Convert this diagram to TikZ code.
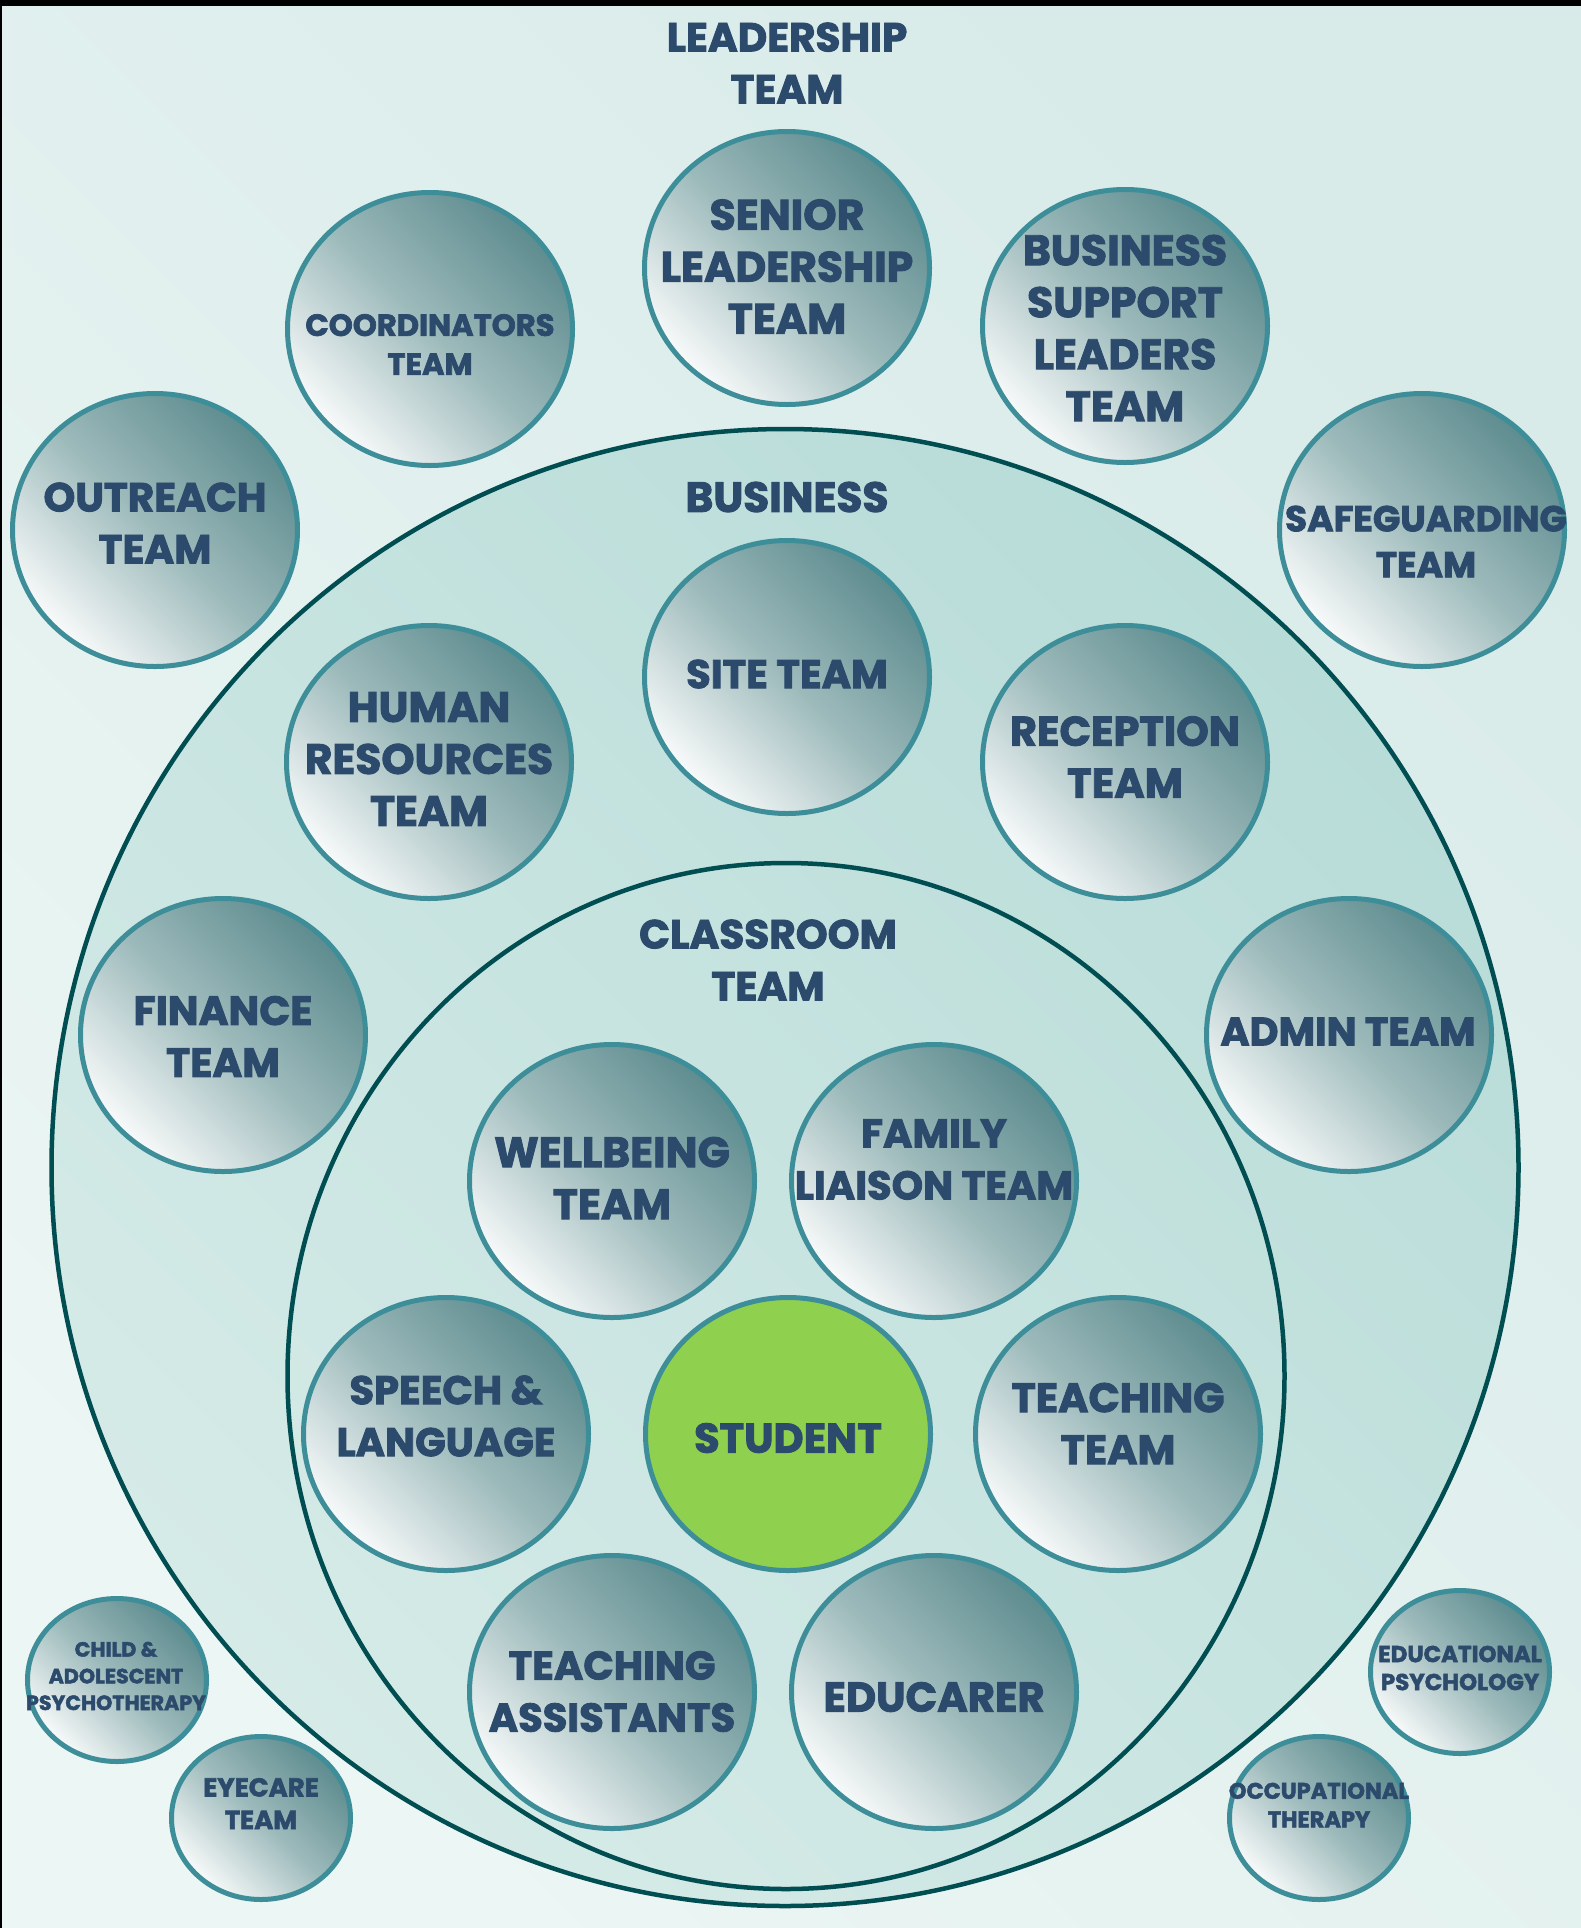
\documentclass[tikz,border=0pt]{standalone}
\usepackage{fontspec}
\setmainfont{Poppins}[BoldFeatures={FakeBold=2.2}]
\usetikzlibrary{shapes.geometric}
\definecolor{textc}{HTML}{2C4B6C}
\definecolor{ringc}{HTML}{3D8E99}
\definecolor{linec}{HTML}{004D52}
\definecolor{bubdark}{HTML}{5E8C8F}
\definecolor{bubmid}{HTML}{9DBABB}
\definecolor{bubwhite}{HTML}{F8FAFA}
\definecolor{studentc}{HTML}{8FD14F}
\definecolor{bglight}{HTML}{ECF6F4}
\definecolor{bgmid}{HTML}{C6E2DF}
\definecolor{bgtop}{HTML}{D8EBE9}
\definecolor{ringlight}{HTML}{D6EBE8}
\definecolor{ringmid}{HTML}{B3DAD5}
\definecolor{ringtop}{HTML}{B8DCD8}
\tikzset{
  bubble/.style={ellipse, draw=ringc, line width=5pt, minimum width=285pt, minimum height=273pt,
    inner sep=0pt, top color=bubdark, bottom color=bubwhite, middle color=bubmid, shading angle=-45},
  smallbubble/.style={bubble, minimum width=179pt, minimum height=163pt},
  studentbubble/.style={ellipse, draw=ringc, line width=5pt, minimum width=285pt, minimum height=273pt,
    inner sep=0pt, fill=studentc},
  lbl/.style={text=textc, align=center, inner sep=0pt, font=\bfseries\fontsize{40}{52}\selectfont},
  ringline/.style={ellipse, draw=linec, line width=4.5pt, inner sep=0pt},
}
\newcommand{\fsz}[2]{\bfseries\fontsize{#1}{#2}\selectfont}
\begin{document}
\begin{tikzpicture}[x=1pt,y=-1pt]
\useasboundingbox (0,0) rectangle (1581,1928);
% background
\shade[bottom color=bglight, middle color=bgmid, top color=bgtop, shading angle=-45] (0,0) rectangle (1581,1928);
% rings
\node[ringline, minimum width=1467pt, minimum height=1477pt,
  bottom color=ringlight, middle color=ringmid, top color=ringtop, shading angle=-45] (outer) at (785,1167.5) {};
\node[ringline, minimum width=997pt, minimum height=1026pt] (inner) at (786,1376) {};
% section labels
\node[lbl, font=\fsz{40.5}{52}] (leadlbl) at (787,63) {LEADERSHIP\\TEAM};
\node[lbl, font=\fsz{42.3}{52}] (buslbl) at (787,497) {BUSINESS};
\node[lbl, font=\fsz{40.6}{52}] (classlbl) at (768,960) {CLASSROOM\\TEAM};
% bubbles
\node[bubble] (sl) at (787,268) {};
\node[bubble] (co) at (430,329) {};
\node[bubble] (bs) at (1125,326) {};
\node[bubble] (ou) at (155,530) {};
\node[bubble] (sg) at (1422,530) {};
\node[bubble] (st) at (787,677) {};
\node[bubble] (hr) at (429,762) {};
\node[bubble] (re) at (1125,762) {};
\node[bubble] (fi) at (223,1035) {};
\node[bubble] (ad) at (1349,1035) {};
\node[bubble] (wb) at (612,1181) {};
\node[bubble] (fl) at (934,1181) {};
\node[bubble] (sp) at (446,1434) {};
\node[studentbubble] (stu) at (788,1434) {};
\node[bubble] (tt) at (1118,1434) {};
\node[bubble] (ta) at (612,1692) {};
\node[bubble] (ed) at (934,1692) {};
\node[smallbubble] (ca) at (117,1680) {};
\node[smallbubble] (ey) at (261,1818) {};
\node[smallbubble] (ep) at (1460,1672) {};
\node[smallbubble] (ot) at (1319,1818) {};
% texts
\node[lbl, font=\fsz{42.5}{52}] (slt) at (787,266.5) {SENIOR\\LEADERSHIP\\TEAM};
\node[lbl, font=\fsz{30.6}{39}] (cot) at (430,344.5) {COORDINATORS\\TEAM};
\node[lbl, font=\fsz{42.6}{52}] (bst) at (1125,328) {BUSINESS\\SUPPORT\\LEADERS\\TEAM};
\node[lbl, font=\fsz{40.5}{52}] (out) at (155,523) {OUTREACH\\TEAM};
\node[lbl, font=\fsz{36}{46}] (sgt) at (1426,541.5) {SAFEGUARDING\\TEAM};
\node[lbl] (stt) at (787,674) {SITE TEAM};
\node[lbl, font=\fsz{42.3}{52}] (hrt) at (429,759) {HUMAN\\RESOURCES\\TEAM};
\node[lbl, font=\fsz{41.5}{52}] (ret) at (1125,757) {RECEPTION\\TEAM};
\node[lbl, font=\fsz{40.8}{52}] (fit) at (223,1036.5) {FINANCE\\TEAM};
\node[lbl, font=\fsz{39.7}{52}] (adt) at (1348,1031.5) {ADMIN TEAM};
\node[lbl, font=\fsz{42.4}{52}] (wbt) at (612,1178) {WELLBEING\\TEAM};
\node[lbl] (flt) at (934,1159.5) {FAMILY\\LIAISON TEAM};
\node[lbl] (spt) at (446,1416) {SPEECH \&\\LANGUAGE};
\node[lbl, font=\fsz{41.5}{52}] (stut) at (788,1438) {STUDENT};
\node[lbl, font=\fsz{41.2}{52}] (ttt) at (1118,1423.5) {TEACHING\\TEAM};
\node[lbl] (tat) at (612,1691.5) {TEACHING\\ASSISTANTS};
\node[lbl, font=\fsz{41.6}{52}] (edt) at (934,1697) {EDUCARER};
\node[lbl, font=\fsz{20.6}{26.7}] (cat) at (116,1676) {CHILD \&\\ADOLESCENT\\PSYCHOTHERAPY};
\node[lbl, font=\fsz{26}{32.5}] (eyt) at (261,1803.5) {EYECARE\\TEAM};
\node[lbl, font=\fsz{23}{28}] (ept) at (1460,1668) {EDUCATIONAL\\PSYCHOLOGY};
\node[lbl, font=\fsz{22.5}{28.5}] (ott) at (1319,1805) {OCCUPATIONAL\\THERAPY};
% frame edges
\fill[black] (0,0) rectangle (1581,6);
\fill[black] (0,0) rectangle (2,1928);
\end{tikzpicture}
\end{document}
